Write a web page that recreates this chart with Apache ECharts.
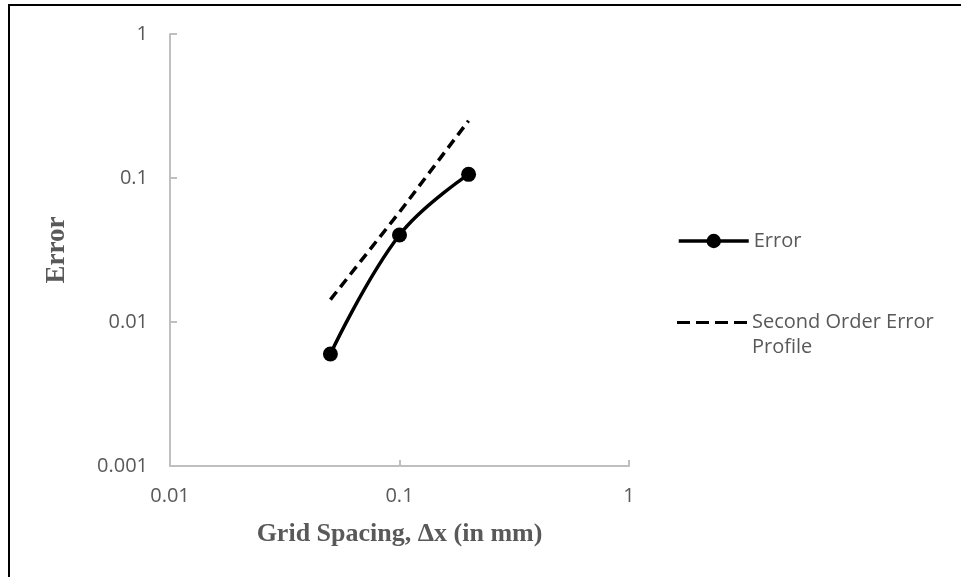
<!DOCTYPE html>
<html>
<head>
<meta charset="utf-8">
<script src="https://cdn.jsdelivr.net/npm/echarts@6/dist/echarts.min.js"></script>
<style>
  html, body { margin: 0; padding: 0; background: #fff; }
  #main { width: 961px; height: 577px; }
</style>
</head>
<body>
<div id="main"></div>
<script>
// data
var gridSpacing = [0.05, 0.1, 0.2];
var errorValues = [0.006, 0.0402, 0.106];
var secondOrder = [0.0143, 0.058, 0.25];
var xTickLabels = ['0.01', '0.1', '1'];
var yTickLabels = ['0.001', '0.01', '0.1', '1'];

var textColor = '#595959';
var axisColor = '#bfbfbf';

function pairs(xs, ys) {
  var out = [];
  for (var i = 0; i < xs.length; i++) out.push([xs[i], ys[i]]);
  return out;
}

var chart = echarts.init(document.getElementById('main'), null, { renderer: 'canvas' });

// dashed legend icon (4 dashes)
var dashIcon = 'path://M0,0h13v3h-13z M19,0h13v3h-13z M38,0h13v3h-13z M57,0h13v3h-13z';

var option = {
  animation: false,
  grid: { left: 170, right: 332, top: 34, bottom: 111 },
  graphic: [
    { type: 'line', shape: { x1: 8, y1: 5, x2: 961, y2: 5 }, style: { stroke: '#000', lineWidth: 2 } },
    { type: 'line', shape: { x1: 9, y1: 5, x2: 9, y2: 577 }, style: { stroke: '#000', lineWidth: 2 } }
  ],
  xAxis: {
    type: 'log',
    logBase: 10,
    min: 0.01,
    max: 1,
    name: 'Grid Spacing, \u0394x (in mm)',
    nameLocation: 'middle',
    nameGap: 55,
    nameTextStyle: { fontFamily: 'Liberation Serif', fontWeight: 'bold', fontSize: 26, color: textColor },
    axisLine: { lineStyle: { color: axisColor, width: 2 } },
    axisTick: { inside: true, length: 6, lineStyle: { color: axisColor, width: 2 } },
    splitLine: { show: false },
    axisLabel: {
      margin: 20,
      fontFamily: 'Open Sans', fontSize: 20, color: textColor,
      formatter: function (v) { return xTickLabels[Math.round(Math.log10(v)) + 2]; }
    }
  },
  yAxis: {
    type: 'log',
    logBase: 10,
    min: 0.001,
    max: 1,
    name: 'Error',
    nameLocation: 'middle',
    nameRotate: 90,
    nameGap: 99,
    nameTextStyle: { fontFamily: 'Liberation Serif', fontWeight: 'bold', fontSize: 27, color: textColor },
    axisLine: { show: true, lineStyle: { color: axisColor, width: 2 } },
    axisTick: { show: true, inside: true, length: 7, lineStyle: { color: axisColor, width: 2 } },
    splitLine: { show: false },
    axisLabel: {
      margin: 22,
      fontFamily: 'Open Sans', fontSize: 20, color: textColor,
      formatter: function (v) { return yTickLabels[Math.round(Math.log10(v)) + 3]; }
    }
  },
  legend: [
    {
      left: 672, top: 226,
      itemWidth: 70, itemHeight: 18, itemGap: 8,
      lineStyle: { width: 3.5 },
      textStyle: { fontFamily: 'Open Sans', fontSize: 20, color: textColor },
      data: ['Error']
    },
    {
      left: 672, top: 280,
      itemWidth: 70, itemHeight: 3.5,
      textStyle: { fontFamily: 'Open Sans', fontSize: 20, color: textColor, lineHeight: 25 },
      formatter: function (name) { return ' \nSecond Order Error\nProfile'; },
      data: [{ name: 'Second Order Error Profile', icon: dashIcon }]
    }
  ],
  series: [
    {
      name: 'Error',
      type: 'line',
      smooth: 0.4,
      symbol: 'circle',
      symbolSize: 15,
      itemStyle: { color: '#000' },
      lineStyle: { color: '#000', width: 3.5 },
      data: pairs(gridSpacing, errorValues)
    },
    {
      name: 'Second Order Error Profile',
      type: 'line',
      symbol: 'none',
      itemStyle: { color: '#000' },
      lineStyle: { color: '#000', width: 3.5, type: [10, 6] },
      data: pairs(gridSpacing, secondOrder)
    }
  ]
};

chart.setOption(option);
</script>
</body>
</html>
